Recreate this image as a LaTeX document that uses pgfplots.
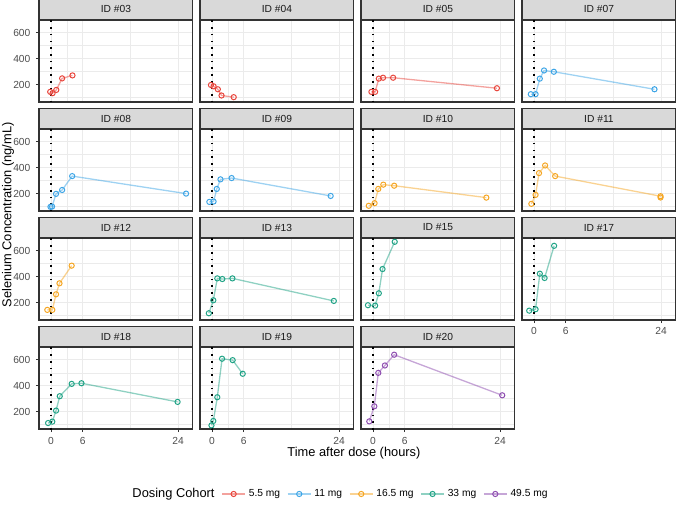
\documentclass[border=0pt]{standalone}
\usepackage{fontspec}
\setmainfont{Liberation Sans}
\usepackage{pgfplots}
\pgfplotsset{compat=1.18}
\definecolor{grey20}{HTML}{333333}
\definecolor{grey30}{HTML}{4D4D4D}
\definecolor{grey85}{HTML}{D9D9D9}
\definecolor{grey92}{HTML}{EBEBEB}
\definecolor{cA}{HTML}{E8453C}
\definecolor{cB}{HTML}{3DA5E6}
\definecolor{cC}{HTML}{F5A623}
\definecolor{cD}{HTML}{20A386}
\definecolor{cE}{HTML}{8E4DB0}
\pgfplotsset{
 panel/.style={
  scale only axis, width=100.7pt, height=53.6pt, anchor=north west,
  xmin=-2.27, xmax=26.8, ymin=66, ymax=698,
  xtick={0,6,24}, minor xtick={3,15}, ytick={200,400,600}, minor ytick={100,300,500},
  grid=both, major grid style={grey92, line width=0.6pt}, minor grid style={grey92, line width=0.3pt},
  axis line style={grey20, line width=0.7pt},
  xticklabels={}, yticklabels={},
  xtick pos=bottom, ytick pos=left,
  major tick length=2.1pt, minor tick length=0pt,
  xtick style={draw=none}, ytick style={draw=none},
  tick align=outside,
  ticklabel style={font=\fontsize{6.7}{8}\selectfont, text=grey30},
  xticklabel style={yshift=0.5pt},
  /pgf/number format/assume math mode=true,
  every axis title/.style={at={(0.5,1)}, anchor=south, draw=grey20, line width=0.7pt, fill=grey85,
    minimum width=100.7pt, minimum height=13.1pt, inner sep=0pt,
    font=\fontsize{6.7}{8}\selectfont, text=black!90},
 },
 ylab/.style={yticklabels={200,400,600}, ytick style={draw=grey20, line width=0.6pt}},
 xlab/.style={xticklabels={0,6,24}, xtick style={draw=grey20, line width=0.6pt}},
 dat/.style={color=#1, line width=0.85pt, draw opacity=0.5, mark=o, mark size=1.7pt,
   mark options={draw opacity=1, line width=0.65pt, solid}},
 zero/.style={black, line width=1.1pt, dash pattern=on 1.1pt off 3.3pt, forget plot},
}
\begin{document}
\begin{tikzpicture}
\path[use as bounding box] (-25.5pt,13.1pt) rectangle (417.3pt,-323.1pt);
% Row 1
\begin{axis}[panel, ylab, at={(0pt,0pt)}, title={ID \#03}]
\addplot[zero] coordinates {(0,60) (0,710)};
\addplot[dat=cA] coordinates {(-0.15,144) (0.3,134) (1.0,159) (2.1,248) (4.05,271)};
\end{axis}
\begin{axis}[panel, at={(105.3pt,0pt)}, title={ID \#04}]
\addplot[zero] coordinates {(0,60) (0,710)};
\addplot[dat=cA] coordinates {(-0.2,197) (0.3,187) (1.1,164) (1.8,116) (4.1,103)};
\end{axis}
\begin{axis}[panel, at={(210.6pt,0pt)}, title={ID \#05}]
\addplot[zero] coordinates {(0,60) (0,710)};
\addplot[dat=cA] coordinates {(-0.3,144) (0.4,144) (1.1,246) (1.9,253) (3.8,253) (23.4,172)};
\end{axis}
\begin{axis}[panel, at={(315.9pt,0pt)}, title={ID \#07}]
\addplot[zero] coordinates {(0,60) (0,710)};
\addplot[dat=cB] coordinates {(-0.6,126) (0.3,126) (1.1,246) (1.9,309) (3.75,299) (22.75,164)};
\end{axis}
% Row 2
\begin{axis}[panel, ylab, at={(0pt,-71.3pt)}, title={ID \#08}]
\addplot[zero] coordinates {(0,60) (0,710)};
\addplot[dat=cB] coordinates {(-0.1,98) (0.2,100) (0.95,198) (2.1,228) (4.0,335) (25.5,200)};
\end{axis}
\begin{axis}[panel, at={(105.3pt,-71.3pt)}, title={ID \#09}]
\addplot[zero] coordinates {(0,60) (0,710)};
\addplot[dat=cB] coordinates {(-0.5,136) (0.3,139) (0.9,236) (1.6,310) (3.7,320) (22.4,182)};
\end{axis}
\begin{axis}[panel, at={(210.6pt,-71.3pt)}, title={ID \#10}]
\addplot[zero] coordinates {(0,60) (0,710)};
\addplot[dat=cC] coordinates {(-0.8,106) (0.3,126) (1.0,236) (1.95,269) (4.0,261) (21.4,169)};
\end{axis}
\begin{axis}[panel, at={(315.9pt,-71.3pt)}, title={ID \#11}]
\addplot[zero] coordinates {(0,60) (0,710)};
\addplot[dat=cC] coordinates {(-0.5,121) (0.3,190) (0.95,358) (2.1,417) (4.0,335) (23.9,180) (23.9,170)};
\end{axis}
% Row 3
\begin{axis}[panel, ylab, at={(0pt,-142.6pt)}, title={ID \#12}]
\addplot[zero] coordinates {(0,60) (0,710)};
\addplot[dat=cC] coordinates {(-0.7,144) (0.25,144) (0.95,264) (1.6,349) (3.9,485)};
\end{axis}
\begin{axis}[panel, at={(105.3pt,-142.6pt)}, title={ID \#13}]
\addplot[zero] coordinates {(0,60) (0,710)};
\addplot[dat=cD] coordinates {(-0.6,118) (0.25,218) (1.0,387) (1.95,382) (3.85,387) (23.0,213)};
\end{axis}
\begin{axis}[panel, at={(210.6pt,-142.6pt)}, title={ID \#15}]
\addplot[zero] coordinates {(0,60) (0,710)};
\addplot[dat=cD] coordinates {(-0.95,180) (0.4,177) (1.1,272) (1.8,459) (4.1,669)};
\end{axis}
\begin{axis}[panel, xlab, at={(315.9pt,-142.6pt)}, title={ID \#17}]
\addplot[zero] coordinates {(0,60) (0,710)};
\addplot[dat=cD] coordinates {(-0.9,138) (0.3,149) (1.1,423) (2.0,390) (3.8,638)};
\end{axis}
% Row 4
\begin{axis}[panel, ylab, xlab, at={(0pt,-213.9pt)}, title={ID \#18}]
\addplot[zero] coordinates {(0,60) (0,710)};
\addplot[dat=cD] coordinates {(-0.55,112) (0.25,123) (0.95,208) (1.65,319) (3.9,414) (5.75,419) (23.9,275)};
\end{axis}
\begin{axis}[panel, xlab, at={(105.3pt,-213.9pt)}, title={ID \#19}]
\addplot[zero] coordinates {(0,60) (0,710)};
\addplot[dat=cD] coordinates {(-0.1,94) (0.25,128) (1.0,311) (1.9,608) (3.9,597) (5.8,492)};
\end{axis}
\begin{axis}[panel, xlab, at={(210.6pt,-213.9pt)}, title={ID \#20}]
\addplot[zero] coordinates {(0,60) (0,710)};
\addplot[dat=cE] coordinates {(-0.7,125) (0.25,241) (1.0,499) (2.25,556) (4.0,639) (24.4,326)};
\end{axis}
% Legend
\begin{axis}[hide axis, scale only axis, width=10pt, height=10pt, anchor=center, at={(196.9pt,-310pt)},
  xmin=0, xmax=1, ymin=0, ymax=1,
  legend image code/.code={\draw[mark repeat=2,mark phase=2] plot coordinates {(0cm,0cm) (0.265cm,0cm) (0.53cm,0cm)};},
  legend style={at={(0.5,0.5)}, anchor=center, draw=none, fill=none, legend columns=-1,
    font=\fontsize{6.7}{8}\selectfont, /tikz/every even column/.append style={column sep=2.5pt}}]
\addlegendimage{empty legend}\addlegendentry{\fontsize{8.4}{10}\selectfont Dosing Cohort}
\addlegendimage{dat=cA}\addlegendentry{5.5 mg}
\addlegendimage{dat=cB}\addlegendentry{11 mg}
\addlegendimage{dat=cC}\addlegendentry{16.5 mg}
\addlegendimage{dat=cD}\addlegendentry{33 mg}
\addlegendimage{dat=cE}\addlegendentry{49.5 mg}
\end{axis}
\node[rotate=90, font=\fontsize{8.4}{10}\selectfont] at (-20.3pt,-127.5pt) {Selenium Concentration (ng/mL)};
\node[font=\fontsize{8.4}{10}\selectfont] at (206pt,-283.2pt) {Time after dose (hours)};
\end{tikzpicture}
\end{document}
